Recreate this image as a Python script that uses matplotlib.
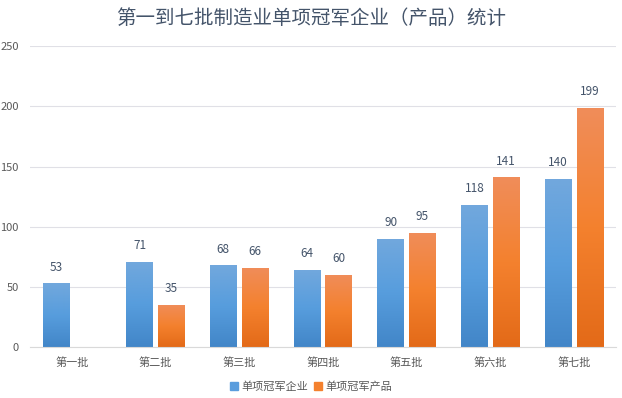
import numpy as np
import matplotlib
matplotlib.use('Agg')
import matplotlib.pyplot as plt
from matplotlib.colors import LinearSegmentedColormap
from matplotlib.patches import Patch

plt.rcParams['font.family'] = ['Noto Sans CJK SC', 'DejaVu Sans']

# 数据
batches = ['第一批', '第二批', '第三批', '第四批', '第五批', '第六批', '第七批']
enterprises = [53, 71, 68, 64, 90, 118, 140]
products = [None, 35, 66, 60, 95, 141, 199]
series_names = ['单项冠军企业', '单项冠军产品']

blue_cmap = LinearSegmentedColormap.from_list('b', ['#4286c8', '#579ddd', '#72a8dd'])
orange_cmap = LinearSegmentedColormap.from_list('o', ['#e36a18', '#f4812e', '#f08d5a'])

fig = plt.figure(figsize=(6.22, 3.98), dpi=100)
ax = fig.add_axes([0.0482, 0.128, 0.942, 0.756])

x = np.arange(len(batches))
w = 0.32
off = 0.19
grad = np.linspace(0, 1, 256).reshape(-1, 1)


def gradient_bars(xs, vals, cmap):
    for xi, v in zip(xs, vals):
        if v is None:
            continue
        b = ax.bar(xi, v, width=w, color='none', edgecolor='none', zorder=2)[0]
        im = ax.imshow(grad, cmap=cmap, origin='lower', aspect='auto',
                       extent=[xi - w / 2, xi + w / 2, 0, v], zorder=2)
        im.set_clip_path(b)
        ax.text(xi, v + 8, str(v), ha='center', va='bottom',
                fontsize=8.5, color='#44546a')


gradient_bars(x - off, enterprises, blue_cmap)
gradient_bars(x + off, products, orange_cmap)

ax.set_xlim(-0.5, len(batches) - 0.5)
ax.set_ylim(0, 250)
ax.set_yticks(range(0, 251, 50))
ax.set_xticks(x)
ax.set_xticklabels(batches)
ax.tick_params(axis='both', length=0, labelsize=8, colors='#595959')
ax.tick_params(axis='x', pad=7)
ax.tick_params(axis='y', pad=8)
ax.grid(axis='y', color='#e0e0e6', linewidth=0.8, zorder=0)
ax.set_axisbelow(True)
for s in ['top', 'right', 'left']:
    ax.spines[s].set_visible(False)
ax.spines['bottom'].set_color('#d9d9d9')

fig.suptitle('第一到七批制造业单项冠军企业（产品）统计', y=0.98,
             fontsize=14, color='#44546a')

handles = [Patch(color='#5a9ddd'), Patch(color='#f4812e')]
fig.legend(handles, series_names, loc='lower center', ncol=2, frameon=False,
           fontsize=8, labelcolor='#595959', handlelength=0.7, handleheight=0.7,
           handletextpad=0.3, columnspacing=0.6, bbox_to_anchor=(0.5, -0.01))

fig.savefig('out.png', dpi=100)
